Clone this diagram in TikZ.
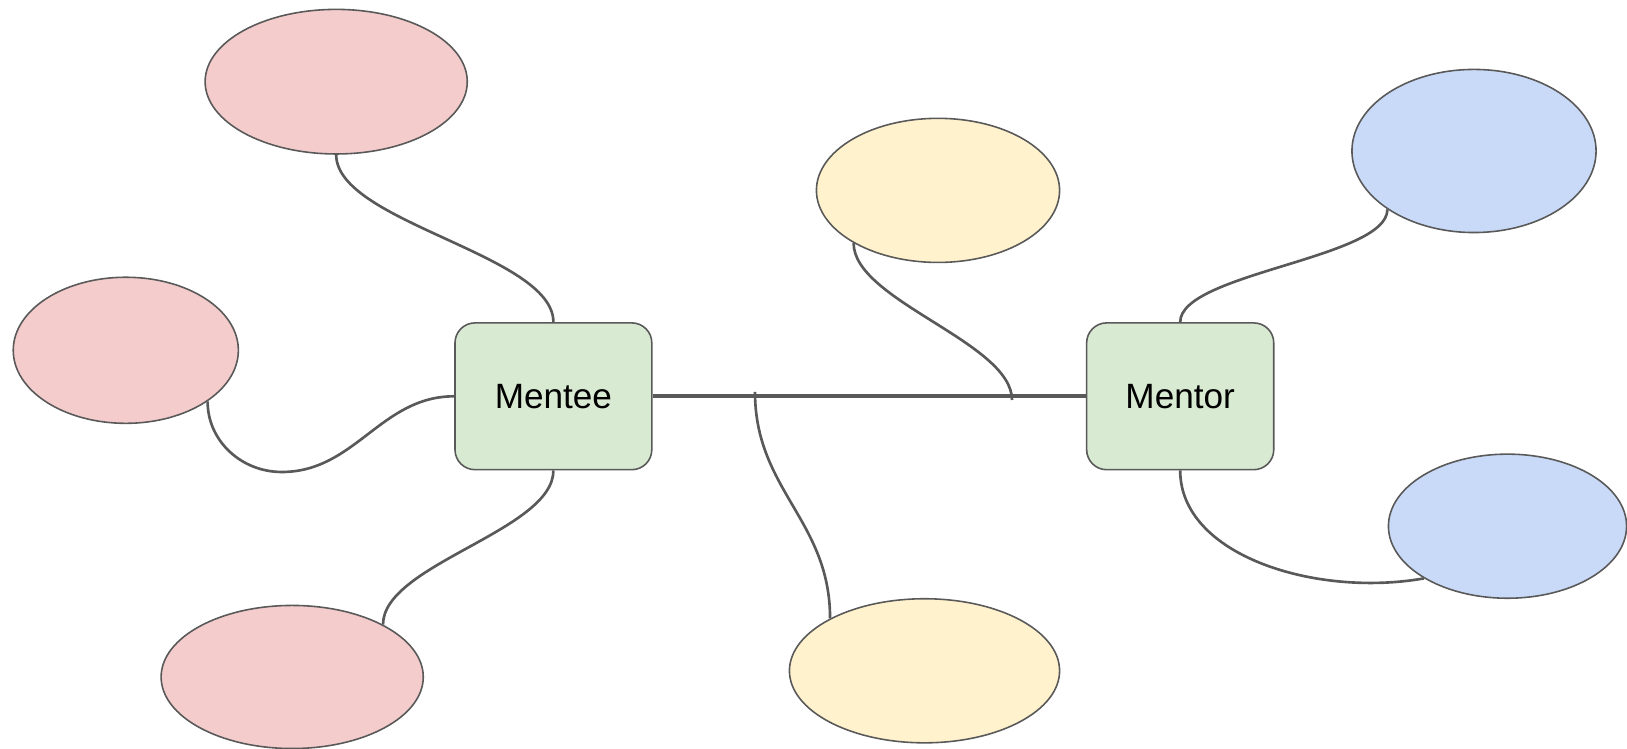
\documentclass[tikz,border=0pt]{standalone}
\usepackage{fontspec}
\setmainfont{Liberation Sans}
\usetikzlibrary{positioning, shapes.geometric}

\definecolor{menteefill}{HTML}{F4CCCC}
\definecolor{topicfill}{HTML}{FFF2CC}
\definecolor{mentorfill}{HTML}{C9DAF8}
\definecolor{rolefill}{HTML}{D9EAD3}
\definecolor{linkgray}{HTML}{595959}

\begin{document}
\begin{tikzpicture}[x=0.01cm, y=0.01cm, font=\fontsize{10}{12}\selectfont,
	role/.style={draw=linkgray, line width=0.45pt, fill=rolefill, rounded corners=0.2cm, minimum height=1.467cm, inner sep=0pt, text=black},
	bubble/.style={ellipse, draw=linkgray, line width=0.45pt, inner sep=0pt},
	link/.style={draw=linkgray, line width=0.75pt},
	mainlink/.style={draw=linkgray, line width=1.2pt}]
	
	\useasboundingbox (0,0) rectangle (1627,749);
	
	% Las dos personas
	\node[role, minimum width=1.967cm] (mentee) at (553.4,352.7) {Mentee};
	\node[role, minimum width=1.87cm, right=4.33cm of mentee] (mentor) {Mentor};
	
	% Burbujas del mentee (izquierda)
	\node[bubble, fill=menteefill, minimum width=2.62cm, minimum height=1.445cm] (mentee_top) at (336.2,667.3) {};
	\node[bubble, fill=menteefill, minimum width=2.25cm, minimum height=1.46cm] (mentee_mid) at (125.8,398.7) {};
	\node[bubble, fill=menteefill, minimum width=2.62cm, minimum height=1.43cm] (mentee_bot) at (292.2,72) {};
	
	% Burbujas de la relacion (centro)
	\node[bubble, fill=topicfill, minimum width=2.43cm, minimum height=1.44cm] (topic_top) at (938,558.6) {};
	\node[bubble, fill=topicfill, minimum width=2.70cm, minimum height=1.44cm] (topic_bot) at (924.5,78.2) {};
	
	% Burbujas del mentor (derecha)
	\node[bubble, fill=mentorfill, minimum width=2.44cm, minimum height=1.63cm] (mentor_top) at (1474,598) {};
	\node[bubble, fill=mentorfill, minimum width=2.38cm, minimum height=1.44cm] (mentor_bot) at (1507.5,222.8) {};
	
	% Puntos de union sobre la linea central
	\coordinate (tap_l) at (755,357);
	\coordinate (tap_r) at (1012,349);
	\coordinate (dip) at (281.7,277);
	
	% Linea central
	\draw[mainlink] (mentee.east) -- (mentor.west);
	
	% Conexiones del mentee
	\draw[link] (mentee_top.south) to[out=-90, in=90, looseness=0.63] (mentee.north);
	\draw[link] (mentee_mid.-32) to[out=-90, in=180] (dip) to[out=0, in=180] (mentee.west);
	\draw[link] (mentee.south) to[out=-90, in=90, looseness=0.67] (mentee_bot.30);
	
	% Conexiones de la relacion
	\draw[link] (topic_top.212) to[out=-90, in=90, looseness=0.66] (tap_r);
	\draw[link] (tap_l) to[out=-90, in=90, looseness=1.05] (topic_bot.151);
	
	% Conexiones del mentor
	\draw[link] (mentor.north) to[out=90, in=-90, looseness=0.53] (mentor_top.214);
	\draw[link] (mentor.south) .. controls +(0,-85) and +(190:110) .. (mentor_bot.212);
\end{tikzpicture}
\end{document}
